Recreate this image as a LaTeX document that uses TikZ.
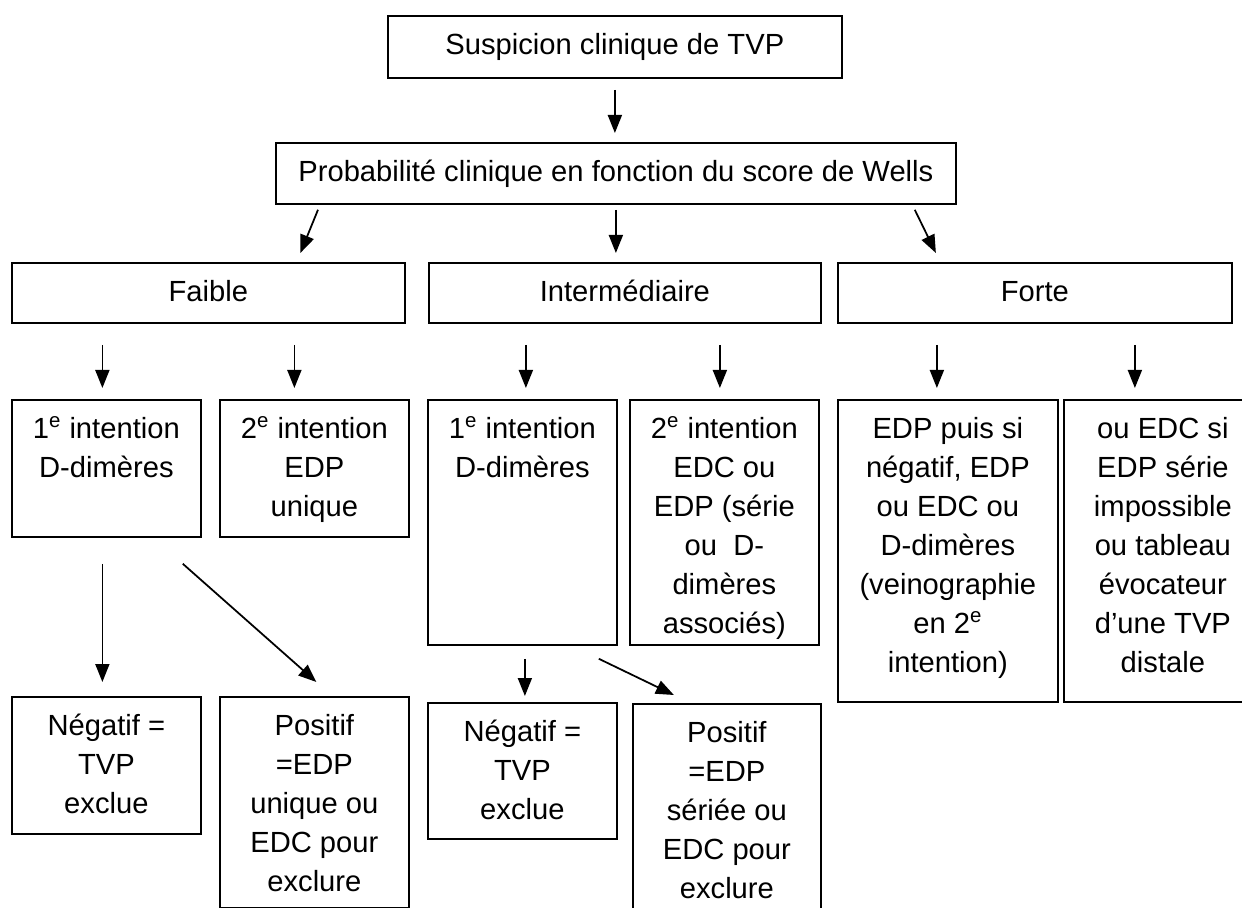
\documentclass[tikz,border=0pt]{standalone}
\usepackage{fontspec}
\setmainfont{Liberation Sans}
\usetikzlibrary{arrows.meta,calc}

\newlength{\unitpx}
\setlength{\unitpx}{0.02cm}
% top aligned, centred text inside a box of given width and height (in px)
\newcommand{\boxtext}[3]{\parbox[t][#2\unitpx][t]{#1\unitpx}{\centering\rule{0pt}{21.8pt}#3}}

\tikzset{
  box/.style={draw, line width=1pt, inner sep=0pt, anchor=north west},
  arr/.style={line width=1pt, -{Triangle[length=0.36cm,width=0.28cm]}}
}

\begin{document}
\begin{tikzpicture}[x=0.02cm, y=-0.02cm, font=\fontsize{16.6pt}{22.2pt}\selectfont]
            \clip (0,0) rectangle (1242,908);

            \node[box] (top) at (387,15) {\boxtext{454}{62}{Suspicion clinique de TVP}};
            \node[box] (wells) at (275,142) {\boxtext{680}{61}{Probabilité clinique en fonction du score de Wells}};

            \node[box] (faible) at (11,262) {\boxtext{393}{60}{Faible}};
            \node[box] (inter) at (428,262) {\boxtext{392}{60}{Intermédiaire}};
            \node[box] (forte) at (837,262) {\boxtext{394}{60}{Forte}};

            \node[box] (f1) at (11,399) {\boxtext{189}{137}{1\textsuperscript{e} intention\\D-dimères}};
            \node[box] (f2) at (219,399) {\boxtext{189}{137}{2\textsuperscript{e} intention\\EDP\\unique}};
            \node[box] (i1) at (427,399) {\boxtext{189}{245}{1\textsuperscript{e} intention\\D-dimères}};
            \node[box] (i2) at (629,399) {\boxtext{189}{245}{2\textsuperscript{e} intention\\EDC ou\\EDP (série\\ou\ \ D-\\dimères\\associés)}};
            \node[box] (fo1) at (837,399) {\boxtext{220}{302}{EDP puis si\\négatif, EDP\\ou EDC ou\\D-dimères\\(veinographie\\en 2\textsuperscript{e}\\intention)}};
            \node[box] (fo2) at (1063,399) {\boxtext{198}{302}{ou EDC si\\EDP série\\impossible\\ou tableau\\évocateur\\d’une TVP\\distale}};

            \node[box] (fneg) at (11,696) {\boxtext{189}{137}{Négatif =\\TVP\\exclue}};
            \node[box] (fpos) at (219,696) {\boxtext{189}{211}{Positif\\=EDP\\unique ou\\EDC pour\\exclure}};
            \node[box] (ineg) at (427,702) {\boxtext{189}{136}{Négatif =\\TVP\\exclue}};
            \node[box] (ipos) at (632,703) {\boxtext{188}{215}{Positif\\=EDP\\sériée ou\\EDC pour\\exclure}};

            \draw[arr] ($(top.south)+(0,11)$) -- ($(top.south |- wells.north)+(0,-9)$);
            \draw[arr] ($(wells.south west)+(43,5)$) -- ($(faible.north)+(92,-9)$);
            \draw[arr] ($(wells.south)+(0,5)$) -- ($(wells.south |- inter.north)+(0,-9)$);
            \draw[arr] ($(wells.south east)+(-42,5)$) -- ($(forte.north)+(-99,-9)$);

            \draw[arr] ($(f1.north |- faible.south)+(-4,21)$) -- ($(f1.north)+(-4,-11)$);
            \draw[arr] ($(f2.north |- faible.south)+(-20,21)$) -- ($(f2.north)+(-20,-11)$);
            \draw[arr] ($(i1.north |- inter.south)+(3.5,21)$) -- ($(i1.north)+(3.5,-11)$);
            \draw[arr] ($(i2.north |- inter.south)+(-4.5,21)$) -- ($(i2.north)+(-4.5,-11)$);
            \draw[arr] ($(fo1.north |- forte.south)+(-11,21)$) -- ($(fo1.north)+(-11,-11)$);
            \draw[arr] ($(fo2.north |- forte.south)+(-28,21)$) -- ($(fo2.north)+(-28,-11)$);

            \draw[arr] ($(f1.south)+(-4,26)$) -- ($(fneg.north)+(-4,-14)$);
            \draw[arr] ($(f1.south east)+(-19,26)$) -- ($(fpos.north)+(2,-14)$);
            \draw[arr] ($(i1.south)+(2.5,13)$) -- ($(ineg.north)+(2.5,-6)$);
            \draw[arr] ($(i1.south east)+(-19,13)$) -- ($(ipos.north)+(-53,-8)$);
        \end{tikzpicture}
\end{document}
